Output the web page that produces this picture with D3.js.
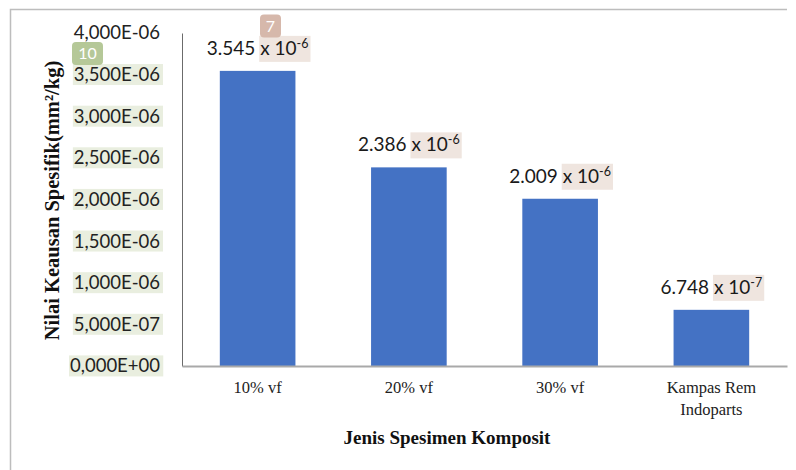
<!DOCTYPE html>
<html>
<head>
<meta charset="utf-8">
<script src="https://cdn.jsdelivr.net/npm/d3@7"></script>
<style>
  html, body { margin: 0; padding: 0; background: #fff; }
  svg { display: block; }
</style>
</head>
<body>
<div id="chart"></div>
<script>
// Data
const categories = ['10% vf', '20% vf', '30% vf', 'Kampas Rem\nIndoparts'];
const wearValues = [3.545e-6, 2.386e-6, 2.009e-6, 6.748e-7];
const yTicks = [0, 5e-7, 1e-6, 1.5e-6, 2e-6, 2.5e-6, 3e-6, 3.5e-6, 4e-6];
const yTitle = 'Nilai Keausan Spesifik(mm²/kg)';
const xTitle = 'Jenis Spesimen Komposit';

const width = 796, height = 470;
const margin = { top: 33, right: 9, bottom: 104, left: 182 };
const sans = 'Lato, "Open Sans", sans-serif';
const serif = '"Liberation Serif", "Times New Roman", serif';

const svg = d3.select('#chart').append('svg')
    .attr('width', width)
    .attr('height', height);

// frame of the pasted figure (top and left edges only visible)
svg.append('path')
    .attr('d', `M10.5,${height} V9.5 H787`)
    .attr('fill', 'none')
    .attr('stroke', '#bdbdbd')
    .attr('stroke-width', 1.5);

const x = d3.scaleBand()
    .domain(categories)
    .range([margin.left, width - margin.right])
    .paddingInner(0.5)
    .paddingOuter(0.25);

const y = d3.scaleLinear()
    .domain([0, 4e-6])
    .range([height - margin.bottom, margin.top]);

// 4.000e-6 -> 4,000E-06
function sciFormat(v) {
    const [m, e] = v.toExponential(3).split('e');
    const sign = e[0] === '-' ? '-' : '+';
    const digits = e.replace(/[+-]/, '').padStart(2, '0');
    return m.replace('.', ',') + 'E' + sign + digits;
}

// Y axis
const yAxis = svg.append('g')
    .attr('transform', `translate(${margin.left},0)`)
    .call(d3.axisLeft(y).tickValues(yTicks).tickSize(0).tickPadding(22).tickFormat(sciFormat));
yAxis.select('.domain').attr('stroke', '#6b6b6b').attr('stroke-width', 1);
yAxis.selectAll('.tick text')
    .attr('font-family', sans)
    .attr('font-size', 18.5)
    .attr('fill', '#222');

// light green highlight behind tick labels (all but the top one)
yAxis.selectAll('.tick').each(function(d) {
    if (d === 4e-6) return;
    const t = d3.select(this).select('text');
    const bb = t.node().getBBox();
    d3.select(this).insert('rect', 'text')
        .attr('x', bb.x - 1)
        .attr('y', bb.y + 1)
        .attr('width', bb.width + 4)
        .attr('height', bb.height - 1)
        .attr('fill', '#e9eedf');
});

// bars
svg.append('g')
    .selectAll('rect')
    .data(wearValues)
    .enter()
    .append('rect')
    .attr('x', (d, i) => x(categories[i]))
    .attr('y', d => y(d))
    .attr('width', x.bandwidth())
    .attr('height', d => y(0) - y(d))
    .attr('fill', '#4472c4');

// X axis baseline
const xAxis = svg.append('g')
    .attr('transform', `translate(0,${y(0)})`)
    .call(d3.axisBottom(x).tickSize(0).tickFormat(''));
xAxis.select('.domain').attr('stroke', '#a9a9a9').attr('stroke-width', 2);

// category labels (may be two lines)
const catLabels = svg.append('g')
    .selectAll('text')
    .data(categories)
    .enter()
    .append('text')
    .attr('x', d => x(d) + x.bandwidth() / 2)
    .attr('y', y(0) + 27)
    .attr('text-anchor', 'middle')
    .attr('font-family', serif)
    .attr('font-size', 16.5)
    .attr('fill', '#222');
catLabels.each(function(d) {
    const t = d3.select(this);
    d.split('\n').forEach((line, k) => {
        t.append('tspan')
            .attr('x', x(d) + x.bandwidth() / 2)
            .attr('dy', k === 0 ? 0 : 22)
            .text(line);
    });
});

// value labels: "3.545 x 10^-6" with highlighted "x 10^-6" part
const valueLabels = svg.append('g')
    .selectAll('g')
    .data(wearValues)
    .enter()
    .append('g')
    .attr('transform', (d, i) => `translate(${x(categories[i]) + x.bandwidth() / 2},${y(d) - 16})`);

valueLabels.each(function(d) {
    const g = d3.select(this);
    const [m, e] = d.toExponential(3).split('e');
    const hl = g.append('rect').attr('fill', '#efe5df');
    const t = g.append('text')
        .attr('font-family', sans)
        .attr('font-size', 19)
        .attr('fill', '#1a1a1a')
        .attr('text-anchor', 'middle');
    t.append('tspan').text(m + ' ');
    const xs = t.append('tspan').text('x 10');
    t.append('tspan').attr('dy', -7).attr('font-size', 12.5).text(e);
    const full = t.node().getBBox();
    const start = xs.node().getStartPositionOfChar(0).x;
    hl.attr('x', start - 1)
        .attr('y', full.y)
        .attr('width', full.x + full.width - start + 3)
        .attr('height', full.height + 3);
});

// revision badges seen on the reference
const badges = [
    { label: '7', color: '#d6b8ab' },
    { label: '10', color: '#b5c898' }
];
function addBadge(cx, cy, w, b) {
    svg.append('rect')
        .attr('x', cx - w / 2).attr('y', cy - 11)
        .attr('width', w).attr('height', 23)
        .attr('rx', 4)
        .attr('fill', b.color);
    svg.append('text')
        .attr('x', cx).attr('y', cy + 6)
        .attr('text-anchor', 'middle')
        .attr('font-family', sans)
        .attr('font-size', 16)
        .attr('fill', '#fff')
        .text(b.label);
}
addBadge(270.5, 25.5, 21, badges[0]);
addBadge(87.5, 53, 31, badges[1]);

// axis titles
svg.append('text')
    .attr('transform', `translate(59,${(margin.top + y(0)) / 2 + 1}) rotate(-90)`)
    .attr('text-anchor', 'middle')
    .attr('font-family', serif)
    .attr('font-weight', 'bold')
    .attr('font-size', 20.5)
    .attr('fill', '#111')
    .text(yTitle);

svg.append('text')
    .attr('x', 447)
    .attr('y', 444)
    .attr('text-anchor', 'middle')
    .attr('font-family', serif)
    .attr('font-weight', 'bold')
    .attr('font-size', 19)
    .attr('fill', '#111')
    .text(xTitle);
</script>
</body>
</html>
